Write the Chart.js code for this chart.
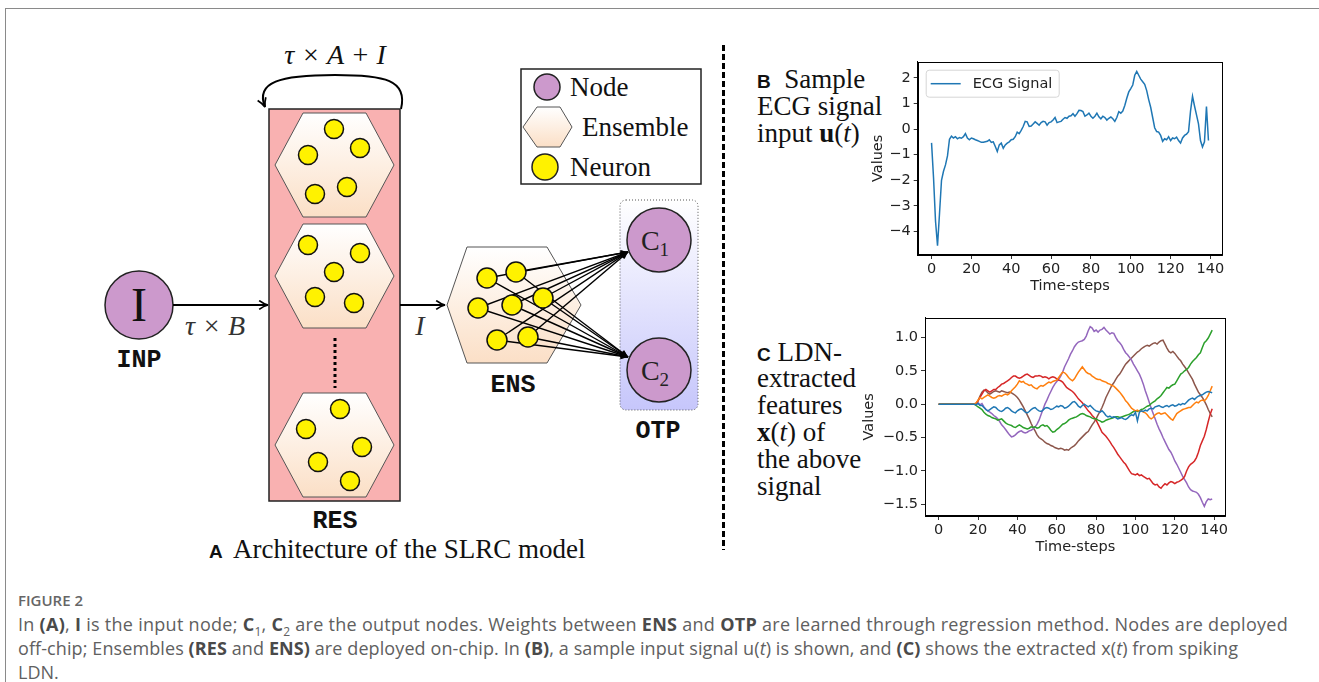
<!DOCTYPE html>
<html><head><meta charset="utf-8">
<script src="https://cdn.jsdelivr.net/npm/chart.js@4.4.1/dist/chart.umd.min.js"></script>
<style>
html,body{margin:0;padding:0;background:#fff;width:1319px;height:682px;overflow:hidden;position:relative}
.abs{position:absolute}
.lbl{position:absolute;font-family:"Liberation Serif",serif;font-size:27px;line-height:27px;color:#111;white-space:nowrap}
.sansb{font-family:"Liberation Sans",Arial,sans-serif;font-weight:bold;font-size:19px}
.cap{position:absolute;left:18px;font-family:"Open Sans",sans-serif;font-size:18px;color:#606060;white-space:nowrap}
.cap b{font-weight:700;color:#4a4a4a}
#chB,#chC{position:absolute}
</style></head>
<body>
<svg class="abs" style="left:0;top:0" width="1319" height="682">
<defs>
 <linearGradient id="hexg" x1="0" y1="0" x2="0" y2="1"><stop offset="0" stop-color="#ffffff"/><stop offset="1" stop-color="#fbdfc6"/></linearGradient>
 <linearGradient id="otpg" x1="0" y1="0" x2="0" y2="1"><stop offset="0" stop-color="#ffffff"/><stop offset="1" stop-color="#c6c6fb"/></linearGradient>
 <marker id="arr" viewBox="0 0 10 10" refX="9" refY="5" markerWidth="11" markerHeight="11" markerUnits="userSpaceOnUse" orient="auto">
  <path d="M1,1 Q5,4 9,5 Q5,6 1,9" fill="none" stroke="#000" stroke-width="1.6"/>
 </marker>
 <marker id="arr2" viewBox="0 0 10 10" refX="9" refY="5" markerWidth="9" markerHeight="9" markerUnits="userSpaceOnUse" orient="auto">
  <path d="M1,1.5 L9,5 L1,8.5 Z" fill="#000"/>
 </marker>
</defs>
<line x1="5" y1="8.5" x2="1319" y2="8.5" stroke="#8a8a8a" stroke-width="1"/>
<line x1="5.5" y1="8" x2="5.5" y2="682" stroke="#8a8a8a" stroke-width="1"/>
<line x1="723.5" y1="45" x2="723.5" y2="550" stroke="#000" stroke-width="3" stroke-dasharray="6,3"/>
<path d="M401 109 C408 80, 385 75, 335 75 C280 75, 255 82, 265 107" fill="none" stroke="#000" stroke-width="2" marker-end="url(#arr)"/>
<rect x="269" y="109" width="131" height="392" fill="#f9b1b1" stroke="#222" stroke-width="1.5"/>
<g fill="url(#hexg)" stroke="#555" stroke-width="1">
 <polygon points="275,165 303,113 366,113 394,165 366,217 303,217"/>
 <polygon points="275,276 303,224 366,224 394,276 366,328 303,328"/>
 <polygon points="275,445 303,393 366,393 394,445 366,497 303,497"/>
</g>
<line x1="335" y1="338" x2="335" y2="388" stroke="#000" stroke-width="3" stroke-dasharray="3,3"/>
<g fill="#fff200" stroke="#111" stroke-width="1.5">
 <circle cx="334" cy="129" r="9.5"/><circle cx="308" cy="155" r="9.5"/><circle cx="360" cy="148" r="9.5"/><circle cx="315" cy="194" r="9.5"/><circle cx="347" cy="187" r="9.5"/>
 <circle cx="308" cy="245" r="9.5"/><circle cx="360" cy="253" r="9.5"/><circle cx="334" cy="272" r="9.5"/><circle cx="315" cy="297" r="9.5"/><circle cx="354" cy="303" r="9.5"/>
 <circle cx="340" cy="409" r="9.5"/><circle cx="306" cy="429" r="9.5"/><circle cx="362" cy="447" r="9.5"/><circle cx="318" cy="462" r="9.5"/><circle cx="350" cy="481" r="9.5"/>
</g>
<circle cx="139" cy="305" r="34" fill="#cc99cc" stroke="#222" stroke-width="1.5"/>
<text x="139" y="321" text-anchor="middle" font-family="Liberation Serif" font-size="48" fill="#111">I</text>
<text x="139" y="367" text-anchor="middle" font-family="Liberation Mono" font-weight="bold" font-size="25" fill="#111">INP</text>
<line x1="173" y1="305" x2="268" y2="305" stroke="#000" stroke-width="2" marker-end="url(#arr)"/>
<text x="215" y="335" text-anchor="middle" font-family="Liberation Serif" font-style="italic" font-size="28" fill="#333">τ × B</text>
<line x1="400" y1="305" x2="445" y2="305" stroke="#000" stroke-width="2" marker-end="url(#arr)"/>
<text x="420" y="335" text-anchor="middle" font-family="Liberation Serif" font-style="italic" font-size="28" fill="#333">I</text>
<text x="335" y="64" text-anchor="middle" font-family="Liberation Serif" font-style="italic" font-size="28" fill="#111">τ × A + I</text>
<text x="335" y="528" text-anchor="middle" font-family="Liberation Mono" font-weight="bold" font-size="25" fill="#111">RES</text>
<rect x="620" y="200" width="78" height="210" rx="6" fill="url(#otpg)" stroke="#555" stroke-width="1" stroke-dasharray="1,2"/>
<polygon points="447,305 467,247 547,247 581,305 547,363 467,363" fill="url(#hexg)" stroke="#555" stroke-width="1"/>
<g stroke="#000" stroke-width="1.4" marker-end="url(#arr2)">
 <line x1="487" y1="278" x2="628" y2="252"/><line x1="516" y1="272" x2="628" y2="252"/><line x1="478" y1="308" x2="628" y2="252"/><line x1="512" y1="305" x2="628" y2="252"/><line x1="543" y1="298" x2="628" y2="252"/><line x1="497" y1="340" x2="628" y2="252"/><line x1="528" y1="337" x2="628" y2="252"/>
 <line x1="487" y1="278" x2="628" y2="357"/><line x1="516" y1="272" x2="628" y2="357"/><line x1="478" y1="308" x2="628" y2="357"/><line x1="512" y1="305" x2="628" y2="357"/><line x1="543" y1="298" x2="628" y2="357"/><line x1="497" y1="340" x2="628" y2="357"/><line x1="528" y1="337" x2="628" y2="357"/>
</g>
<g fill="#fff200" stroke="#111" stroke-width="1.5">
 <circle cx="487" cy="278" r="10"/><circle cx="516" cy="272" r="10"/><circle cx="478" cy="308" r="10"/><circle cx="512" cy="305" r="10"/><circle cx="543" cy="298" r="10"/><circle cx="497" cy="340" r="10"/><circle cx="528" cy="337" r="10"/>
</g>
<text x="513" y="392" text-anchor="middle" font-family="Liberation Mono" font-weight="bold" font-size="25" fill="#111">ENS</text>
<circle cx="659" cy="240" r="32" fill="#cc99cc" stroke="#222" stroke-width="1.5"/>
<circle cx="659" cy="370" r="32" fill="#cc99cc" stroke="#222" stroke-width="1.5"/>
<text x="655" y="250" text-anchor="middle" font-family="Liberation Serif" font-size="28" fill="#222">C<tspan font-size="19" dy="6">1</tspan></text>
<text x="655" y="380" text-anchor="middle" font-family="Liberation Serif" font-size="28" fill="#222">C<tspan font-size="19" dy="6">2</tspan></text>
<text x="658" y="438" text-anchor="middle" font-family="Liberation Mono" font-weight="bold" font-size="25" fill="#111">OTP</text>
<rect x="521" y="69" width="180" height="115" fill="#fff" stroke="#222" stroke-width="1.5"/>
<circle cx="547" cy="87" r="13" fill="#cc99cc" stroke="#222" stroke-width="1.5"/>
<polygon points="523,127 537,107 560,107 572,127 560,147 537,147" fill="url(#hexg)" stroke="#555" stroke-width="1"/>
<circle cx="545" cy="167" r="13" fill="#fff200" stroke="#222" stroke-width="1.5"/>
<g font-family="Liberation Serif" font-size="27" fill="#111">
 <text x="570" y="96">Node</text>
 <text x="582" y="136">Ensemble</text>
 <text x="570" y="176">Neuron</text>
</g>
<text x="209" y="558" font-family="Liberation Sans" font-weight="bold" font-size="19" fill="#111">A</text>
<text x="233" y="558" font-family="Liberation Serif" font-size="27" fill="#111">Architecture of the SLRC model</text>
</svg>

<div class="lbl" style="left:757px;top:66px"><span class="sansb">B</span>&nbsp; Sample</div>
<div class="lbl" style="left:757px;top:93px">ECG signal</div>
<div class="lbl" style="left:757px;top:120px">input <b>u</b>(<i>t</i>)</div>
<div class="lbl" style="left:757px;top:339px"><span class="sansb">C</span>&nbsp;LDN-</div>
<div class="lbl" style="left:757px;top:365px">extracted</div>
<div class="lbl" style="left:757px;top:392px">features</div>
<div class="lbl" style="left:757px;top:419px"><b>x</b>(<i>t</i>) of</div>
<div class="lbl" style="left:757px;top:446px">the above</div>
<div class="lbl" style="left:757px;top:473px">signal</div>

<div id="chB" style="left:850px;top:50px;width:380px;height:245px"><canvas id="cB" width="380" height="245"></canvas></div>
<div id="chC" style="left:850px;top:306px;width:380px;height:250px"><canvas id="cC" width="380" height="250"></canvas></div>

<div class="cap" style="top:590px;font-size:15px;color:#666;font-weight:600">FIGURE 2</div>
<div class="cap fit" data-w="1270" style="top:612px">In <b>(A)</b>, <b>I</b> is the input node; <b>C</b><sub style="font-size:12px">1</sub>, <b>C</b><sub style="font-size:12px">2</sub> are the output nodes. Weights between <b>ENS</b> and <b>OTP</b> are learned through regression method. Nodes are deployed</div>
<div class="cap fit" data-w="1220" style="top:636px">off-chip; Ensembles <b>(RES</b> and <b>ENS)</b> are deployed on-chip. In <b>(B)</b>, a sample input signal u(<i>t</i>) is shown, and <b>(C)</b> shows the extracted x(<i>t</i>) from spiking</div>
<div class="cap" style="top:660px">LDN.</div>

<script>
// ---------- data ----------
const timeSteps = Array.from({length:140},(_, i)=>i);
const ecgXTicks = [0,20,40,60,80,100,120,140];
const ecgYTicks = [-4,-3,-2,-1,0,1,2];
const ldnXTicks = [0,20,40,60,80,100,120,140];
const ldnYTicks = [-1.5,-1.0,-0.5,0.0,0.5,1.0];
const ecgLabel = "ECG Signal";
const ecgSignal = [
-0.54,-1.9,-3.6,-4.56,-3.3,-2.0,-1.65,-1.4,-1.05,-0.4,
-0.28,-0.35,-0.3,-0.38,-0.33,-0.36,-0.3,-0.18,-0.35,-0.42,
-0.35,-0.38,-0.42,-0.45,-0.48,-0.52,-0.52,-0.5,-0.48,-0.42,
-0.52,-0.5,-0.68,-0.88,-0.62,-0.55,-0.75,-0.62,-0.55,-0.5,
-0.42,-0.4,-0.3,-0.12,-0.18,-0.05,0.1,0.3,0.28,0.1,
0.12,0.2,0.28,0.22,0.15,0.25,0.3,0.28,0.15,0.25,
0.28,0.35,0.45,0.25,0.28,0.3,0.38,0.45,0.42,0.5,
0.52,0.6,0.5,0.6,0.73,0.72,0.68,0.5,0.55,0.62,
0.5,0.42,0.5,0.62,0.48,0.4,0.5,0.45,0.35,0.42,
0.47,0.4,0.3,0.45,0.68,0.62,0.7,0.92,1.2,1.45,
1.58,1.72,2.1,2.25,2.1,1.95,1.85,1.75,1.5,1.15,
0.85,0.45,0.05,-0.1,-0.12,-0.25,-0.48,-0.38,-0.42,-0.3,
-0.45,-0.35,-0.38,-0.32,-0.45,-0.55,-0.35,-0.25,-0.2,-0.1,
0.7,1.28,0.9,0.55,0.2,-0.45,-0.7,-0.5,0.88,-0.45];

const featureBlue = [0,0,0,0,0,0,0,0,0,0,0,0,0,0,0,0,0,0,0,
-0.01,0.01,-0.02,-0.02,-0.05,-0.08,-0.1,-0.08,-0.06,-0.04,-0.05,-0.08,-0.1,-0.11,-0.09,-0.06,-0.05,-0.07,-0.1,-0.12,-0.13,
-0.1,-0.08,-0.07,-0.09,-0.12,-0.13,-0.11,-0.08,-0.06,-0.05,-0.08,-0.1,-0.11,-0.09,-0.06,-0.05,-0.06,-0.08,-0.07,-0.05,
-0.03,-0.04,-0.02,-0.03,-0.06,-0.05,-0.03,0.0,0.03,0.04,0.01,-0.03,-0.05,-0.02,0.0,-0.02,-0.04,-0.02,-0.05,-0.08,
-0.1,-0.11,-0.12,-0.1,-0.13,-0.17,-0.19,-0.18,-0.2,-0.19,-0.2,-0.22,-0.21,-0.2,-0.22,-0.23,-0.21,-0.18,-0.16,-0.17,
-0.12,-0.25,-0.12,-0.1,-0.11,-0.09,-0.1,-0.07,-0.06,-0.07,-0.04,-0.03,-0.02,-0.04,-0.05,-0.03,-0.02,-0.04,-0.02,-0.01,
-0.03,-0.02,0.0,-0.01,0.01,0.0,0.03,0.06,0.08,0.09,0.07,0.1,0.12,0.13,0.14,0.16,0.18,0.19,0.18,0.17];
const featureOrange = [0,0,0,0,0,0,0,0,0,0,0,0,0,0,0,0,0,0,0,
0.02,0.06,0.1,0.08,0.1,0.12,0.14,0.12,0.1,0.09,0.1,0.12,0.13,0.12,0.14,0.15,0.14,0.16,0.2,0.23,0.26,
0.3,0.35,0.33,0.34,0.31,0.3,0.28,0.29,0.26,0.24,0.23,0.26,0.28,0.27,0.29,0.31,0.33,0.32,0.34,0.35,
0.36,0.4,0.44,0.48,0.47,0.44,0.4,0.37,0.35,0.38,0.43,0.48,0.52,0.56,0.52,0.48,0.46,0.45,0.42,0.4,
0.38,0.37,0.37,0.35,0.34,0.33,0.31,0.3,0.28,0.27,0.24,0.21,0.18,0.14,0.1,0.05,0.02,-0.02,-0.06,-0.08,
-0.1,-0.09,-0.11,-0.1,-0.12,-0.13,-0.16,-0.2,-0.22,-0.2,-0.16,-0.14,-0.13,-0.15,-0.14,-0.13,-0.16,-0.19,-0.22,-0.24,
-0.19,-0.14,-0.12,-0.1,-0.08,-0.07,-0.06,-0.05,-0.05,-0.02,0.01,0.03,0.02,0.05,0.06,0.05,0.08,0.13,0.2,0.27];
const featureGreen = [0,0,0,0,0,0,0,0,0,0,0,0,0,0,0,0,0,0,0,
-0.02,-0.04,-0.06,-0.08,-0.12,-0.15,-0.17,-0.18,-0.2,-0.21,-0.22,-0.24,-0.23,-0.22,-0.25,-0.28,-0.3,-0.31,-0.32,-0.34,-0.35,
-0.33,-0.31,-0.33,-0.35,-0.36,-0.37,-0.36,-0.34,-0.35,-0.34,-0.36,-0.35,-0.32,-0.31,-0.33,-0.32,-0.35,-0.39,-0.42,-0.41,
-0.38,-0.36,-0.33,-0.3,-0.29,-0.27,-0.24,-0.22,-0.21,-0.2,-0.19,-0.17,-0.15,-0.14,-0.15,-0.17,-0.18,-0.19,-0.21,-0.22,
-0.22,-0.24,-0.25,-0.27,-0.26,-0.24,-0.23,-0.22,-0.21,-0.2,-0.19,-0.19,-0.2,-0.19,-0.18,-0.17,-0.16,-0.15,-0.13,-0.11,
-0.1,-0.11,-0.1,-0.08,-0.07,-0.05,-0.03,-0.02,0.01,0.03,0.05,0.08,0.1,0.13,0.17,0.21,0.25,0.24,0.27,0.29,
0.3,0.35,0.4,0.45,0.47,0.5,0.52,0.55,0.6,0.64,0.67,0.7,0.74,0.77,0.85,0.92,0.95,0.99,1.05,1.11];
const featureRed = [0,0,0,0,0,0,0,0,0,0,0,0,0,0,0,0,0,0,0,
0.01,0.05,0.1,0.15,0.2,0.22,0.2,0.18,0.2,0.22,0.22,0.25,0.27,0.3,0.31,0.33,0.35,0.37,0.4,0.42,0.42,
0.4,0.39,0.4,0.42,0.44,0.45,0.43,0.41,0.4,0.42,0.42,0.43,0.42,0.4,0.41,0.4,0.38,0.4,0.41,0.4,
0.38,0.36,0.35,0.33,0.29,0.25,0.23,0.21,0.19,0.16,0.12,0.08,0.05,0.02,-0.02,-0.06,-0.1,-0.13,-0.17,-0.2,
-0.24,-0.3,-0.36,-0.42,-0.45,-0.48,-0.52,-0.56,-0.61,-0.65,-0.7,-0.75,-0.79,-0.83,-0.87,-0.9,-0.95,-1.0,-1.04,-1.05,
-1.06,-1.04,-1.07,-1.06,-1.08,-1.1,-1.12,-1.11,-1.15,-1.19,-1.21,-1.2,-1.24,-1.26,-1.22,-1.19,-1.21,-1.18,-1.16,-1.17,
-1.19,-1.17,-1.16,-1.14,-1.12,-1.08,-1.0,-0.94,-0.9,-0.88,-0.85,-0.8,-0.72,-0.62,-0.55,-0.48,-0.38,-0.26,-0.15,-0.07];
const featurePurple = [0,0,0,0,0,0,0,0,0,0,0,0,0,0,0,0,0,0,0,
0.0,0.02,-0.01,0.01,-0.04,-0.08,-0.1,-0.12,-0.14,-0.17,-0.19,-0.22,-0.26,-0.31,-0.34,-0.38,-0.42,-0.46,-0.49,-0.48,-0.46,
-0.43,-0.41,-0.4,-0.42,-0.43,-0.42,-0.4,-0.39,-0.37,-0.34,-0.3,-0.24,-0.16,-0.08,0.0,0.06,0.13,0.19,0.25,0.3,
0.34,0.37,0.42,0.48,0.56,0.62,0.68,0.75,0.8,0.86,0.9,0.93,0.94,0.95,0.97,1.02,1.1,1.16,1.14,1.09,
1.11,1.08,1.11,1.12,1.15,1.11,1.08,1.05,1.07,1.06,1.0,0.95,0.92,0.88,0.82,0.77,0.74,0.7,0.66,0.6,
0.55,0.5,0.45,0.38,0.3,0.2,0.12,0.03,-0.06,-0.14,-0.22,-0.3,-0.37,-0.43,-0.5,-0.56,-0.62,-0.68,-0.72,-0.78,
-0.85,-0.9,-0.96,-1.02,-1.08,-1.13,-1.18,-1.24,-1.28,-1.3,-1.31,-1.32,-1.35,-1.4,-1.47,-1.53,-1.46,-1.42,-1.43,-1.42];
const featureBrown = [0,0,0,0,0,0,0,0,0,0,0,0,0,0,0,0,0,0,0,
0.0,0.05,0.12,0.18,0.21,0.2,0.17,0.15,0.17,0.19,0.2,0.19,0.18,0.2,0.19,0.18,0.17,0.18,0.17,0.15,0.13,
0.1,0.06,0.01,-0.04,-0.1,-0.16,-0.22,-0.29,-0.35,-0.4,-0.46,-0.5,-0.52,-0.54,-0.57,-0.59,-0.6,-0.62,-0.63,-0.65,
-0.66,-0.67,-0.66,-0.67,-0.69,-0.68,-0.69,-0.66,-0.64,-0.62,-0.59,-0.55,-0.52,-0.49,-0.46,-0.43,-0.41,-0.36,-0.31,-0.27,
-0.22,-0.16,-0.11,-0.05,0.02,0.1,0.16,0.22,0.28,0.32,0.37,0.42,0.45,0.5,0.55,0.6,0.63,0.66,0.69,0.72,
0.75,0.78,0.8,0.83,0.85,0.87,0.88,0.87,0.89,0.91,0.92,0.9,0.93,0.95,0.96,0.9,0.84,0.79,0.77,0.79,
0.76,0.72,0.68,0.65,0.6,0.56,0.52,0.47,0.42,0.37,0.3,0.24,0.18,0.14,0.1,0.05,-0.01,-0.08,-0.14,-0.19];
const featureSeries = [featureBlue, featureOrange, featureGreen, featureRed, featurePurple, featureBrown];
const featureColors = ['#1f77b4','#ff7f0e','#2ca02c','#d62728','#9467bd','#8c564b'];

// ---------- caption fit ----------
document.querySelectorAll('.cap.fit').forEach(el=>{
  const target = +el.dataset.w, w = el.getBoundingClientRect().width, n = el.textContent.length;
  el.style.letterSpacing = ((target - w)/n).toFixed(3)+'px';
});

// ---------- helpers ----------
const pts = arr => arr.map((v,i)=>({x:timeSteps[i], y:v}));
const fmtMinus = s => String(s).replace('-', '\u2212');
const tickFont = {family:'DejaVu Sans', size:14.5};
const titleFont = {family:'DejaVu Sans', size:14.5};

const framePlugin = {id:'frame', afterDatasetsDraw(chart){
  const {ctx, chartArea:a} = chart; ctx.save(); ctx.strokeStyle='#000'; ctx.lineWidth=1;
  ctx.strokeRect(Math.round(a.left)+0.5, Math.round(a.top)+0.5, Math.round(a.right-a.left)-1, Math.round(a.bottom-a.top)-1);
  ctx.restore();
}};
const ecgLegend = {id:'ecgLegend', afterDraw(chart){
  const {ctx, chartArea:a} = chart; const ds = chart.data.datasets[0];
  const x = a.left+8, y = a.top+8, w = 133, h = 27, r = 3;
  ctx.save();
  ctx.beginPath(); ctx.roundRect(x+0.5,y+0.5,w,h,r); ctx.fillStyle='rgba(255,255,255,0.85)'; ctx.fill();
  ctx.strokeStyle='#d6d6d6'; ctx.lineWidth=1; ctx.stroke();
  ctx.beginPath(); ctx.moveTo(x+5,y+h/2+0.5); ctx.lineTo(x+35,y+h/2+0.5); ctx.strokeStyle=ds.borderColor; ctx.lineWidth=1.5; ctx.stroke();
  ctx.fillStyle='#222'; ctx.font='14.5px "DejaVu Sans"'; ctx.textBaseline='middle'; ctx.fillText(ds.label, x+47, y+h/2+1);
  ctx.restore();
}};

function axes(xTicks, yTicks, yWidth, yFmt, yTitlePad, yMin, yMax){
  return {
    x:{type:'linear', min:-6.95, max:145.95,
       afterBuildTicks: ax => { ax.ticks = xTicks.map(v=>({value:v})); },
       afterFit: s => { s.height = 40; },
       grid:{drawOnChartArea:false, drawTicks:true, tickLength:4, color:'#000', lineWidth:0.8},
       border:{display:true, color:'#000', width:1},
       ticks:{font:tickFont, color:'#222', padding:2, maxRotation:0, callback:v=>fmtMinus(v)},
       title:{display:true, text:'Time-steps', font:titleFont, color:'#222', padding:{top:0,bottom:0}}},
    y:{type:'linear', min:yMin, max:yMax,
       afterBuildTicks: ax => { ax.ticks = yTicks.map(v=>({value:v})); },
       afterFit: s => { s.width = yWidth; },
       grid:{drawOnChartArea:false, drawTicks:true, tickLength:4, color:'#000', lineWidth:0.8},
       border:{display:true, color:'#000', width:1},
       ticks:{font:tickFont, color:'#222', padding:3, callback:yFmt},
       title:{display:true, text:'Values', font:titleFont, color:'#222', padding:{top:yTitlePad,bottom:0}}}
  };
}

new Chart(document.getElementById('cB'), {
  type:'line',
  data:{datasets:[{label:ecgLabel, data:pts(ecgSignal), borderColor:'#1f77b4', borderWidth:1.5, pointRadius:0, tension:0}]},
  options:{responsive:false, animation:false, devicePixelRatio:1,
    layout:{padding:{left:0,right:7.7,top:5,bottom:0}},
    plugins:{legend:{display:false}, tooltip:{enabled:false}},
    scales:axes(ecgXTicks, ecgYTicks, 67.7, v=>fmtMinus(v), 20, -4.92, 2.63)},
  plugins:[framePlugin, ecgLegend]
});

new Chart(document.getElementById('cC'), {
  type:'line',
  data:{datasets:featureSeries.map((s,k)=>({label:'x'+(k+1), data:pts(s), borderColor:featureColors[k], borderWidth:1.5, pointRadius:0, tension:0}))},
  options:{responsive:false, animation:false, devicePixelRatio:1,
    layout:{padding:{left:0,right:0,top:10,bottom:0}},
    plugins:{legend:{display:false}, tooltip:{enabled:false}},
    scales:axes(ldnXTicks, ldnYTicks, 75, v=>fmtMinus(Number(v).toFixed(1)), 11, -1.675, 1.295)},
  plugins:[framePlugin]
});
</script>
</body></html>
